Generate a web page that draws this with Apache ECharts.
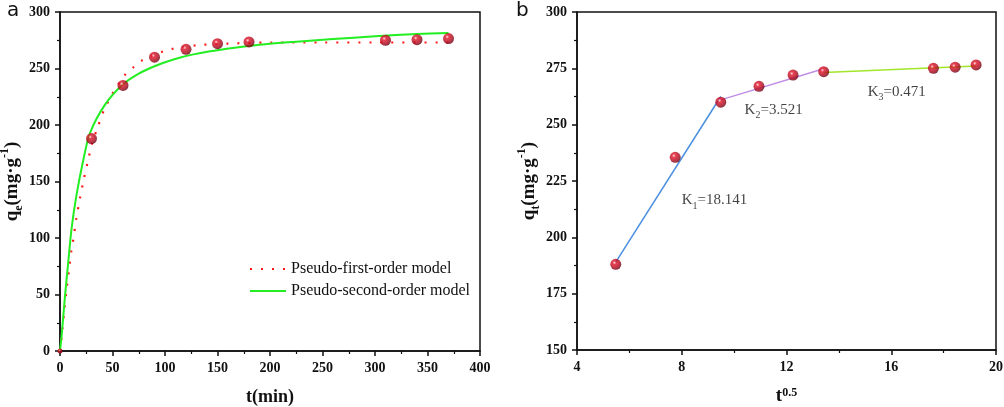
<!DOCTYPE html>
<html>
<head>
<meta charset="utf-8">
<script src="https://cdn.jsdelivr.net/npm/echarts@6/dist/echarts.min.js"></script>
<style>
html,body{margin:0;padding:0;background:#fff;}
#c{width:1004px;height:407px;}
</style>
</head>
<body>
<div id="c"></div>
<script>
// ---- Panel a data ----
var timeMin = [0, 30, 60, 90, 120, 150, 180, 310, 340, 370];
var qeExp = [0, 188, 235, 260, 267, 272, 273.5, 275, 275.5, 276.5];
var pfoT = [0, 2.2, 4.1, 6.3, 8.6, 11.1, 12.7, 15.5, 19, 22.9, 27.3, 30, 35.5, 42.2, 46.7, 51.4, 62, 69.8, 77.8, 95, 105, 130, 160, 200, 250, 300, 370];
var pfoQ = [0, 18, 36, 54.6, 72, 90.5, 99, 117, 135, 153, 171, 182, 197, 214, 222, 230, 244.5, 251, 257, 264, 267, 270.5, 272, 273, 273, 273, 273];
var psoT = [0, 1.6, 4.8, 7.9, 11.1, 15.9, 22.2, 28.6, 42.9, 60, 75, 90, 108, 127, 159, 190, 222, 260, 300, 340, 370];
var psoQ = [0, 14, 49, 79, 109, 139, 169, 193, 218, 236, 245.5, 252, 258, 262.5, 267.5, 271, 273.5, 276, 278.5, 280.5, 281.5];
var xTicksA = [0, 50, 100, 150, 200, 250, 300, 350, 400];
var yTicksA = [0, 50, 100, 150, 200, 250, 300];
// ---- Panel b data ----
var sqrtT = [5.48, 7.75, 9.49, 10.95, 12.25, 13.42, 17.61, 18.44, 19.24];
var qtExp = [188, 235.5, 260, 267, 272, 273.5, 275, 275.5, 276.5];
var seg1 = [[5.48, 189], [9.49, 262.5]];
var seg2 = [[9.49, 261], [13.42, 274.8]];
var seg3 = [[13.42, 273.2], [19.24, 276]];
var kLabels = [
  {x: 8.0, y: 216.6, name: 'K', sub: '1', val: '=18.141'},
  {x: 10.4, y: 256.6, name: 'K', sub: '2', val: '=3.521'},
  {x: 15.1, y: 264.6, name: 'K', sub: '3', val: '=0.471'}
];

function zip(a, b) { return a.map(function (v, i) { return [v, b[i]]; }); }

var serif = 'Liberation Serif';
var sphere = {
  type: 'radial', x: 0.38, y: 0.35, r: 0.65,
  colorStops: [
    {offset: 0, color: '#ffd6d6'},
    {offset: 0.25, color: '#e01228'},
    {offset: 0.75, color: '#a8061a'},
    {offset: 1, color: '#6a0010'}
  ]
};
var nameRich = {
  b: {fontFamily: serif, fontWeight: 'bold', fontSize: 19, color: '#111', lineHeight: 26},
  sub: {fontFamily: serif, fontWeight: 'bold', fontSize: 12, color: '#111', verticalAlign: 'bottom', lineHeight: 13},
  sup: {fontFamily: serif, fontWeight: 'bold', fontSize: 12, color: '#111', verticalAlign: 'top', lineHeight: 13}
};
var annRich = {
  b: {fontFamily: serif, fontSize: 15, color: '#111', lineHeight: 22},
  sub: {fontFamily: serif, fontSize: 10, color: '#111', verticalAlign: 'bottom', lineHeight: 10}
};
function axisCommon() {
  return {
    axisLine: {show: true, lineStyle: {color: '#111', width: 1.5}},
    axisTick: {show: true, inside: false, length: 5, lineStyle: {color: '#111', width: 1.5}},
    minorTick: {show: true, splitNumber: 2, length: 3, lineStyle: {color: '#111', width: 1.2}},
    splitLine: {show: false},
    axisLabel: {fontFamily: serif, fontWeight: 'bold', fontSize: 14, color: '#111', margin: 10}
  };
}
function ext(a, b) { for (var k in b) a[k] = b[k]; return a; }

var chart = echarts.init(document.getElementById('c'), null, {renderer: 'canvas'});
var option = {
  backgroundColor: '#fff',
  animation: false,
  title: [
    {text: 'a', left: 7, top: 1, padding: 0, textStyle: {fontFamily: 'DejaVu Sans', fontWeight: 'normal', fontSize: 20, color: '#111'}},
    {text: 'b', left: 516, top: 1, padding: 0, textStyle: {fontFamily: 'DejaVu Sans', fontWeight: 'normal', fontSize: 20, color: '#111'}}
  ],
  grid: [
    {left: 60, top: 12, width: 420, height: 339, containLabel: false, outerBoundsMode: 'none', show: true, borderColor: '#111', borderWidth: 1.5, backgroundColor: 'transparent'},
    {left: 577, top: 12, width: 419, height: 338, containLabel: false, outerBoundsMode: 'none', show: true, borderColor: '#111', borderWidth: 1.5, backgroundColor: 'transparent'}
  ],
  legend: {
    data: ['Pseudo-first-order model', 'Pseudo-second-order model'],
    orient: 'vertical', left: 249, top: 261, padding: 0,
    itemWidth: 36, itemHeight: 14, itemGap: 6,
    itemStyle: {opacity: 0},
    textStyle: {fontFamily: serif, fontSize: 16, color: '#111'}
  },
  xAxis: [
    ext(axisCommon(), {gridIndex: 0, type: 'value', min: xTicksA[0], max: xTicksA[xTicksA.length - 1], interval: 50,
      name: 't(min)', nameLocation: 'middle', nameGap: 37,
      nameTextStyle: {fontFamily: serif, fontWeight: 'bold', fontSize: 18, color: '#111'}}),
    ext(axisCommon(), {gridIndex: 1, type: 'value', min: 4, max: 20, interval: 4,
      name: 't{sup|0.5}', nameLocation: 'middle', nameGap: 37,
      nameTextStyle: {fontFamily: serif, fontWeight: 'bold', fontSize: 19, color: '#111', rich: {
        sup: {fontFamily: serif, fontWeight: 'bold', fontSize: 12, color: '#111', verticalAlign: 'top', lineHeight: 12}}}})
  ],
  yAxis: [
    ext(axisCommon(), {gridIndex: 0, type: 'value', min: yTicksA[0], max: yTicksA[yTicksA.length - 1], interval: 50,
      name: '{b|q}{sub|e}{b|(mg·g}{sup|-1}{b|)}', nameLocation: 'middle', nameGap: 34,
      nameTextStyle: {rich: nameRich}}),
    ext(axisCommon(), {gridIndex: 1, type: 'value', min: 150, max: 300, interval: 25,
      name: '{b|q}{sub|t}{b|(mg·g}{sup|-1}{b|)}', nameLocation: 'middle', nameGap: 35,
      nameTextStyle: {rich: nameRich}})
  ],
  series: [
    {name: 'Pseudo-first-order model', type: 'line', xAxisIndex: 0, yAxisIndex: 0, data: zip(pfoT, pfoQ),
      smooth: 0.3, showSymbol: false, symbol: 'none', z: 3,
      lineStyle: {color: '#ff1a1a', width: 2.2, type: [2, 9], cap: 'butt'}, itemStyle: {color: '#ff1a1a'}},
    {name: 'Pseudo-second-order model', type: 'line', xAxisIndex: 0, yAxisIndex: 0, data: zip(psoT, psoQ),
      smooth: 0.3, showSymbol: false, symbol: 'none', z: 3,
      lineStyle: {color: '#22ee22', width: 2}, itemStyle: {color: '#22ee22'}},
    {name: 'expA', type: 'scatter', xAxisIndex: 0, yAxisIndex: 0, data: zip(timeMin, qeExp),
      symbolSize: function (v) { return v[0] === 0 ? 5 : 11; }, z: 5, itemStyle: {color: sphere}},
    {name: 'seg1', type: 'line', xAxisIndex: 1, yAxisIndex: 1, data: seg1, showSymbol: false, symbol: 'none',
      lineStyle: {color: '#4a8fe0', width: 1.5}, z: 3},
    {name: 'seg2', type: 'line', xAxisIndex: 1, yAxisIndex: 1, data: seg2, showSymbol: false, symbol: 'none',
      lineStyle: {color: '#c08ee6', width: 1.5}, z: 3},
    {name: 'seg3', type: 'line', xAxisIndex: 1, yAxisIndex: 1, data: seg3, showSymbol: false, symbol: 'none',
      lineStyle: {color: '#a2e62a', width: 1.5}, z: 3},
    {name: 'expB', type: 'scatter', xAxisIndex: 1, yAxisIndex: 1, data: zip(sqrtT, qtExp),
      symbolSize: 11, z: 5, itemStyle: {color: sphere}},
    {name: 'ann', type: 'scatter', xAxisIndex: 1, yAxisIndex: 1, symbolSize: 0, silent: true,
      data: kLabels.map(function (k) { return {value: [k.x, k.y]}; }),
      label: {show: true, position: 'right', distance: 0, rich: annRich,
        formatter: function (p) { var k = kLabels[p.dataIndex]; return '{b|' + k.name + '}{sub|' + k.sub + '}{b|' + k.val + '}'; }}}
  ]
};
chart.setOption(option);
</script>
</body>
</html>
